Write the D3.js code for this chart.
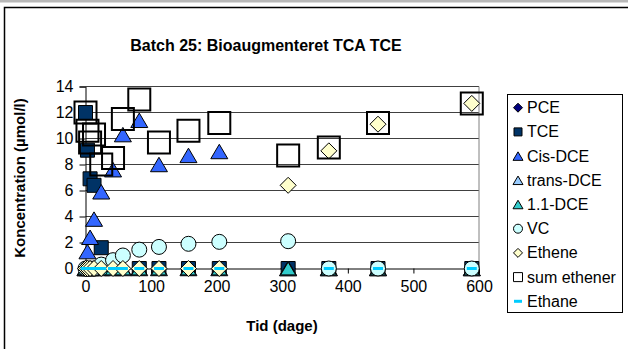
<!DOCTYPE html>
<html>
<head>
<meta charset="utf-8">
<script src="https://cdn.jsdelivr.net/npm/d3@7"></script>
<style>
  html, body { margin: 0; padding: 0; background: #fff; }
  svg { display: block; }
  text { font-family: Arial, "Liberation Sans", sans-serif; }
</style>
</head>
<body>
<svg id="chart" width="628" height="349"></svg>
<script>
// Sampling days
const days = [0, 3, 7, 13, 24, 42, 57, 82, 112, 157, 204, 309, 371, 446, 589];

// Concentrations (µmol/l) per compound, one value per sampling day
const pce      = [0, 0, 0, 0, 0, 0, 0, 0, 0, 0, 0, 0, 0, 0, 0];
const tce      = [12.0, 9.1, 6.9, 6.4, 1.6, null, null, 0, 0, 0, 0, 0, 0, 0, 0];
const cisDce   = [0, 1.3, 2.4, 3.8, 5.9, 7.6, 10.3, 11.4, 8.0, 8.7, 9.0, 0, 0, 0, 0];
const transDce = [0, 0, 0, 0, 0, 0, 0, 0, 0, 0, 0, 0, 0, 0, 0];
const dce11    = [0, 0, 0, 0, 0, 0, 0, 0, 0, 0, 0, 0, 0, 0, 0];
const vc       = [0, 0, 0, 0, 0.3, 0.64, 1.0, 1.45, 1.66, 1.9, 2.05, 2.1, 0, 0, 0];
const ethene   = [0, 0, 0, 0, 0, 0, 0, 0, 0, 0, 0, 6.4, 9.05, 11.1, 12.7];
const sumEthener = [12.0, 10.6, 9.7, 10.3, 8.0, 8.5, 11.5, 13.0, 9.7, 10.6, 11.2, 8.7, 9.3, 11.2, 12.7];
const ethane   = [0, 0, 0, 0, 0, 0, 0, 0, 0, 0, 0, null, 0, 0, 0];

const seriesNames = ["PCE", "TCE", "Cis-DCE", "trans-DCE", "1.1-DCE", "VC", "Ethene", "sum ethener", "Ethane"];
const seriesValues = [pce, tce, cisDce, transDce, dce11, vc, ethene, sumEthener, ethane];

const yTicks = [0, 2, 4, 6, 8, 10, 12, 14];
const xTicks = [0, 100, 200, 300, 400, 500, 600];

const titleText = "Batch 25: Bioaugmenteret TCA TCE";
const xTitle = "Tid (dage)";
const yTitle = "Koncentration (µmol/l)";

// Marker appearance for each series (drawn in series order)
const markerStyles = [
  { shape: "diamond",  fill: "#000080", stroke: "#000",  size: 14, lsize: 9 },
  { shape: "square",   fill: "#003366", stroke: "#000",  size: 14, lsize: 8 },
  { shape: "triangle", fill: "#3366FF", stroke: "#000",  size: 17, lsize: 10 },
  { shape: "triangle", fill: "#99CCFF", stroke: "#000",  size: 17, lsize: 10 },
  { shape: "triangle", fill: "#33CCCC", stroke: "#000",  size: 15, lsize: 10 },
  { shape: "circle",   fill: "#CCFFFF", stroke: "#000",  size: 15, lsize: 9 },
  { shape: "diamond",  fill: "#FFFFCC", stroke: "#000",  size: 16, lsize: 9 },
  { shape: "square",   fill: "none",    stroke: "#000",  size: 22, lsize: 9, sw: 2 },
  { shape: "dash",     fill: "#00CCFF", stroke: "none",  size: 10, lsize: 8 }
];

function markerPath(shape, s) {
  const h = s / 2;
  switch (shape) {
    case "square":   return `M${-h},${-h}h${s}v${s}h${-s}Z`;
    case "diamond":  return `M0,${-h}L${h},0L0,${h}L${-h},0Z`;
    case "triangle": { const th = s * 0.85; return `M0,${-th / 2}L${h},${th / 2}L${-h},${th / 2}Z`; }
    case "circle":   return `M${-h},0A${h},${h} 0 1,0 ${h},0A${h},${h} 0 1,0 ${-h},0Z`;
    case "dash":     return `M${-h},-1.5h${s}v3h${-s}Z`;
  }
}

const svg = d3.select("#chart");

// Page edge and chart frame
svg.append("rect").attr("x", 0).attr("y", 0).attr("width", 628).attr("height", 2.5).attr("fill", "#b8b8b8");
svg.append("rect").attr("x", 4.5).attr("y", 7.5).attr("width", 640).attr("height", 360)
  .attr("fill", "#fff").attr("stroke", "#000").attr("stroke-width", 1.5);

const x = d3.scaleLinear().domain([0, 600]).range([85.5, 479]);
const y = d3.scaleLinear().domain([0, 14]).range([268.5, 86.5]);

// Title
svg.append("text").attr("x", 266).attr("y", 51).attr("text-anchor", "middle")
  .attr("font-size", 16).attr("font-weight", "bold").text(titleText);

// Gridlines
svg.append("g").selectAll("line").data(yTicks.filter(d => d > 0)).join("line")
  .attr("x1", x(0)).attr("x2", x(600))
  .attr("y1", d => y(d)).attr("y2", d => y(d))
  .attr("stroke", "#404040").attr("stroke-width", 1);

// Plot-area right edge
svg.append("line").attr("x1", x(600)).attr("x2", x(600)).attr("y1", y(14)).attr("y2", y(0))
  .attr("stroke", "#808080").attr("stroke-width", 1);

// Y axis
const yAxis = svg.append("g").attr("transform", `translate(${x(0)},0)`)
  .call(d3.axisLeft(y).tickValues(yTicks).tickSize(6).tickPadding(6));
yAxis.select(".domain").attr("stroke", "#000");
yAxis.selectAll(".tick line").attr("stroke", "#000");
yAxis.selectAll(".tick text").attr("font-size", 16).attr("fill", "#000")
  .attr("font-family", "Arial, 'Liberation Sans', sans-serif");

// X axis
const xAxis = svg.append("g").attr("transform", `translate(0,${y(0)})`)
  .call(d3.axisBottom(x).tickValues(xTicks).tickSize(5).tickPadding(7));
xAxis.select(".domain").attr("stroke", "#000");
xAxis.selectAll(".tick line").attr("stroke", "#000");
xAxis.selectAll(".tick text").attr("font-size", 16).attr("fill", "#000")
  .attr("font-family", "Arial, 'Liberation Sans', sans-serif");

// Axis titles
svg.append("text").attr("x", 282).attr("y", 331).attr("text-anchor", "middle")
  .attr("font-size", 15).attr("font-weight", "bold").text(xTitle);
svg.append("text").attr("transform", `translate(25,178) rotate(-90)`).attr("text-anchor", "middle")
  .attr("font-size", 15).attr("font-weight", "bold").text(yTitle);

// Data markers
const marks = svg.append("g");
seriesValues.forEach((vals, i) => {
  const st = markerStyles[i];
  const pts = days.map((d, j) => ({ d, v: vals[j] })).filter(p => p.v !== null);
  marks.append("g").selectAll("path").data(pts).join("path")
    .attr("transform", p => `translate(${x(p.d)},${y(p.v)})`)
    .attr("d", markerPath(st.shape, st.size))
    .attr("fill", st.fill)
    .attr("stroke", st.stroke)
    .attr("stroke-width", st.sw || 1);
});

// Legend
const legend = svg.append("g");
legend.append("rect").attr("x", 507.5).attr("y", 94.5).attr("width", 115).attr("height", 218)
  .attr("fill", "#fff").attr("stroke", "#000").attr("stroke-width", 1);
seriesNames.forEach((name, i) => {
  const st = markerStyles[i];
  const cy = 107.7 + i * 24.2;
  legend.append("path").attr("transform", `translate(518,${cy})`)
    .attr("d", markerPath(st.shape, st.lsize))
    .attr("fill", st.fill === "none" ? "#fff" : st.fill)
    .attr("stroke", st.stroke).attr("stroke-width", 1);
  legend.append("text").attr("x", 527).attr("y", cy + 5.5)
    .attr("font-size", 16).text(name);
});
</script>
</body>
</html>
